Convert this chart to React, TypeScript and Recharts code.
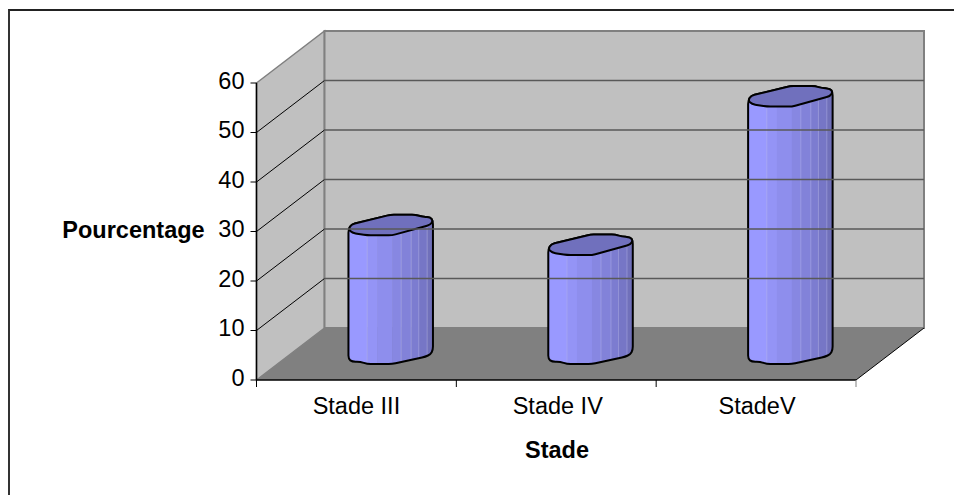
import React from 'react';
import { BarChart, Bar, XAxis, YAxis, ReferenceArea, ReferenceLine, Label } from 'recharts';

const categories = ['Stade III', 'Stade IV', 'StadeV'];
const percentages = [26, 22, 52];
const yTicks = [0, 10, 20, 30, 40, 50, 60];

const data = categories.map((name, i) => ({ name, value: percentages[i] }));

const FONT = '"Liberation Sans", Arial, sans-serif';
const FONT_SIZE = 23.5;
const PLOT_WIDTH = 599.5;
// how far the back wall sits behind the front plane
const DEPTH_X = 68;
const DEPTH_Y = 52;

// outline of the "cylinder", offsets from its centre for a bar 84px wide
const topOutline = [
  [-42, 4], [-39, -1], [0, -10.5], [25, -10.5], [31.7, -8.5], [40, -8], [42.5, -4.5],
  [40, -0.5], [1.7, 10], [-23.3, 10], [-30, 9], [-38.3, 7.5],
];
const bottomOutline = [
  [-42, 5], [-38.3, 7.7], [-30, 7.7], [-23.3, 10], [1.7, 10], [35, 2.7], [40, 0.3], [42.5, -4],
];
// vertical facets of the shading, left to right
const facetEdges = [-42, -23.3, -13.3, 1.7, 10.7, 20.7, 28.3, 36.7, 42.5];
const facetColors = ['#9999ff', '#9494f6', '#8e8eed', '#8787e2', '#8282d9', '#7c7cd0', '#7676c6', '#7070ba'];
const facetSeams = [-23.3, 10.7, 20.7, 28.3, 36.7];

// closed path with the corners rounded, straight edges stay straight
const roundedPath = (pts: number[][], r = 3.5) => {
  const n = pts.length;
  const toward = (a: number[], b: number[]) => {
    const len = Math.hypot(b[0] - a[0], b[1] - a[1]);
    const k = Math.min(r, len / 2) / len;
    return [a[0] + (b[0] - a[0]) * k, a[1] + (b[1] - a[1]) * k];
  };
  let d = '';
  pts.forEach((p, i) => {
    const a = toward(p, pts[(i + n - 1) % n]);
    const b = toward(p, pts[(i + 1) % n]);
    d += `${i === 0 ? 'M' : 'L'}${a[0]},${a[1]} Q${p[0]},${p[1]} ${b[0]},${b[1]} `;
  });
  return d + 'Z';
};

const CylinderBar = (props: any) => {
  const { x, y, width, height, index } = props;
  const cx = x + width / 2 + DEPTH_X / 2;
  const topY = y - DEPTH_Y / 2;
  const baseY = y + height - DEPTH_Y / 2;

  const top = topOutline.map(([dx, dy]) => [cx + dx, topY + dy]);
  const body = [
    ...topOutline.slice(0, 7).map(([dx, dy]) => [cx + dx, topY + dy]),
    ...bottomOutline.slice().reverse().map(([dx, dy]) => [cx + dx, baseY + dy]),
  ];
  const clipId = `cyl-${index}`;
  const bodyPath = roundedPath(body);

  return (
    <g>
      <clipPath id={clipId}>
        <path d={bodyPath} />
      </clipPath>
      <g clipPath={`url(#${clipId})`}>
        {facetColors.map((c, i) => (
          <rect
            key={c}
            x={cx + facetEdges[i]}
            y={topY - 15}
            width={facetEdges[i + 1] - facetEdges[i] + 0.5}
            height={height + 40}
            fill={c}
          />
        ))}
        {facetSeams.map((s) => (
          <line key={s} x1={cx + s} x2={cx + s} y1={topY} y2={baseY + 15} stroke="#b8b8e8" strokeOpacity={0.45} />
        ))}
      </g>
      <path d={bodyPath} fill="none" stroke="#000" strokeWidth={2} strokeLinejoin="round" />
      <path d={roundedPath(top)} fill="#7070bd" stroke="#000" strokeWidth={2} strokeLinejoin="round" />
    </g>
  );
};

const Room = (props: any) => {
  const { x, y, width, height } = props;
  const bottom = y + height;
  const right = x + width;
  return (
    <g>
      <polygon
        points={`${x},${y} ${x + DEPTH_X},${y - DEPTH_Y} ${x + DEPTH_X},${bottom - DEPTH_Y} ${x},${bottom}`}
        fill="#c0c0c0"
        stroke="#808080"
        strokeWidth={1.5}
      />
      <rect
        x={x + DEPTH_X}
        y={y - DEPTH_Y}
        width={width}
        height={height}
        fill="#c0c0c0"
        stroke="#808080"
        strokeWidth={2}
      />
      <polygon
        points={`${x},${bottom} ${x + DEPTH_X},${bottom - DEPTH_Y} ${right + DEPTH_X},${bottom - DEPTH_Y} ${right},${bottom}`}
        fill="#808080"
      />
      <line x1={right} y1={bottom} x2={right + DEPTH_X} y2={bottom - DEPTH_Y} stroke="#000" strokeWidth={1} />
    </g>
  );
};

const GridLine = (props: any) => {
  const { x1, y1, x2 } = props;
  return (
    <g>
      <line x1={x1} y1={y1} x2={x1 + DEPTH_X} y2={y1 - DEPTH_Y} stroke="#000" strokeWidth={1} />
      <line x1={x1 + DEPTH_X} y1={y1 - DEPTH_Y} x2={x2 + DEPTH_X} y2={y1 - DEPTH_Y} stroke="#595959" strokeWidth={1.5} />
    </g>
  );
};

// the ticks sit between the categories, not under them
const XTick = ({ x, y, payload, index }: any) => {
  const band = PLOT_WIDTH / categories.length;
  return (
    <g>
      <line x1={x - band / 2} x2={x - band / 2} y1={380} y2={387} stroke="#000" strokeWidth={1} />
      {index === categories.length - 1 && (
        <line x1={x + band / 2} x2={x + band / 2} y1={380} y2={387} stroke="#808080" strokeWidth={1} />
      )}
      <text x={x + (index === 1 ? 1.5 : index === 2 ? 1 : 0)} y={414} textAnchor="middle" fontFamily={FONT} fontSize={FONT_SIZE} fill="#000">
        {payload.value}
      </text>
    </g>
  );
};

const YTick = ({ y, payload }: any) => (
  <text x={244.5} y={y + 5.5} textAnchor="end" fontFamily={FONT} fontSize={FONT_SIZE} fill="#000">
    {payload.value}
  </text>
);

export default function App() {
  return (
    <div style={{ position: 'absolute', left: 0, top: 0, width: 954, height: 495, background: '#fff', overflow: 'hidden' }}>
      <div style={{ position: 'absolute', left: 8, top: 9, width: 946, height: 486, borderTop: '2px solid #222', borderLeft: '2px solid #333' }} />
      <BarChart
        width={954}
        height={495}
        data={data}
        margin={{ top: 83, right: 98, bottom: 0, left: 0 }}
        barCategoryGap="29%"
        style={{ position: 'absolute', left: 0, top: 0 }}
      >
        <ReferenceArea y1={0} y2={60} shape={Room} ifOverflow="visible" stroke="none" />
        {yTicks
          .filter((t) => t > 0 && t < 60)
          .map((t) => (
            <ReferenceLine key={t} y={t} shape={GridLine} ifOverflow="visible" />
          ))}
        <XAxis
          dataKey="name"
          tick={XTick}
          tickLine={false}
          axisLine={{ stroke: '#000', strokeWidth: 1.5 }}
          interval={0}
          height={115}
        >
          <Label
            content={() => (
              <text x={557} y={458} textAnchor="middle" fontFamily={FONT} fontSize={FONT_SIZE} fontWeight="bold" fill="#000">
                Stade
              </text>
            )}
          />
        </XAxis>
        <YAxis
          domain={[0, 60]}
          ticks={yTicks}
          tick={YTick}
          tickLine={{ stroke: '#000', strokeWidth: 1 }}
          axisLine={{ stroke: '#000', strokeWidth: 1.5 }}
          tickSize={6}
          width={256.5}
          interval={0}
        >
          <Label
            content={() => (
              <text x={133.5} y={237.5} textAnchor="middle" fontFamily={FONT} fontSize={FONT_SIZE} fontWeight="bold" fill="#000">
                Pourcentage
              </text>
            )}
          />
        </YAxis>
        <Bar dataKey="value" shape={CylinderBar} isAnimationActive={false} />
      </BarChart>
    </div>
  );
}
